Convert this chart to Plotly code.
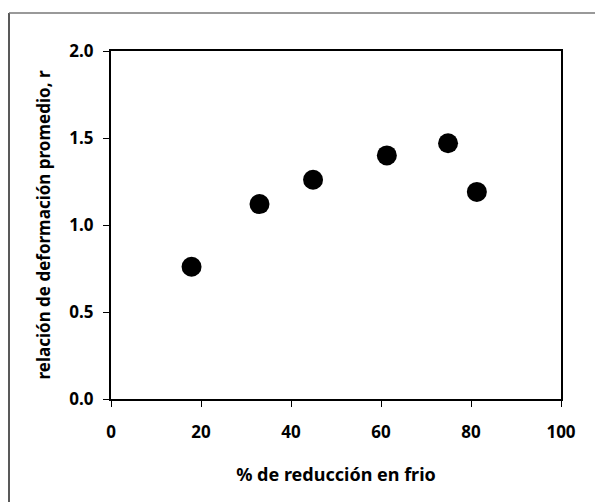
import plotly.graph_objects as go

# Cold-rolling reduction (%) and average strain ratio r
reduccion = [17.9, 33.0, 44.9, 61.3, 74.9, 81.3]
r_promedio = [0.76, 1.12, 1.26, 1.40, 1.47, 1.19]

x_ticks = [0, 20, 40, 60, 80, 100]
y_ticks = [0.0, 0.5, 1.0, 1.5, 2.0]
y_tick_text = ["0.0", "0.5", "1.0", "1.5", "2.0"]

W, H = 595, 502
L, R, T, B = 111, 34, 51, 103
pw, ph = W - L - R, H - T - B

def px_to_paper_x(px):
    return (px - L) / pw

def px_to_paper_y(py):
    return (H - B - py) / ph

tick_font = dict(family="Noto Sans", size=17, color="black", weight="bold")
xtitle_font = dict(family="Noto Sans", size=18, color="black", weight="bold")
ytitle_font = dict(family="Noto Sans", size=17, color="black", weight="bold")

fig = go.Figure(
    go.Scatter(
        x=reduccion,
        y=r_promedio,
        mode="markers",
        marker=dict(size=20, color="black", line=dict(width=0)),
        showlegend=False,
        hoverinfo="x+y",
    )
)

axis_common = dict(
    showgrid=False,
    zeroline=False,
    showline=True,
    mirror=True,
    linecolor="black",
    linewidth=2,
    ticks="outside",
    ticklen=6,
    tickwidth=1,
    tickcolor="black",
    tickfont=tick_font,
)

fig.update_xaxes(
    range=[0, 100],
    tickvals=x_ticks,
    ticklabelstandoff=11,
    title=dict(text="% de reducción en frio", font=xtitle_font, standoff=26),
    **axis_common,
)
fig.update_yaxes(
    range=[0, 2.0],
    tickvals=y_ticks,
    ticklabelstandoff=6,
    ticktext=y_tick_text,
    title=dict(text="relación de deformación promedio, r", font=ytitle_font, standoff=14),
    **axis_common,
)

# Outer frame: left and top edges
fig.add_shape(
    type="line", xref="paper", yref="paper",
    x0=px_to_paper_x(9), x1=px_to_paper_x(9),
    y0=px_to_paper_y(13), y1=px_to_paper_y(502),
    line=dict(color="#222222", width=1.5),
)
fig.add_shape(
    type="line", xref="paper", yref="paper",
    x0=px_to_paper_x(9), x1=px_to_paper_x(595),
    y0=px_to_paper_y(13), y1=px_to_paper_y(13),
    line=dict(color="#777777", width=1.5),
)

fig.update_layout(
    width=W,
    height=H,
    margin=dict(l=L, r=R, t=T, b=B),
    paper_bgcolor="white",
    plot_bgcolor="white",
    font=tick_font,
)

fig.write_html("out.html")
